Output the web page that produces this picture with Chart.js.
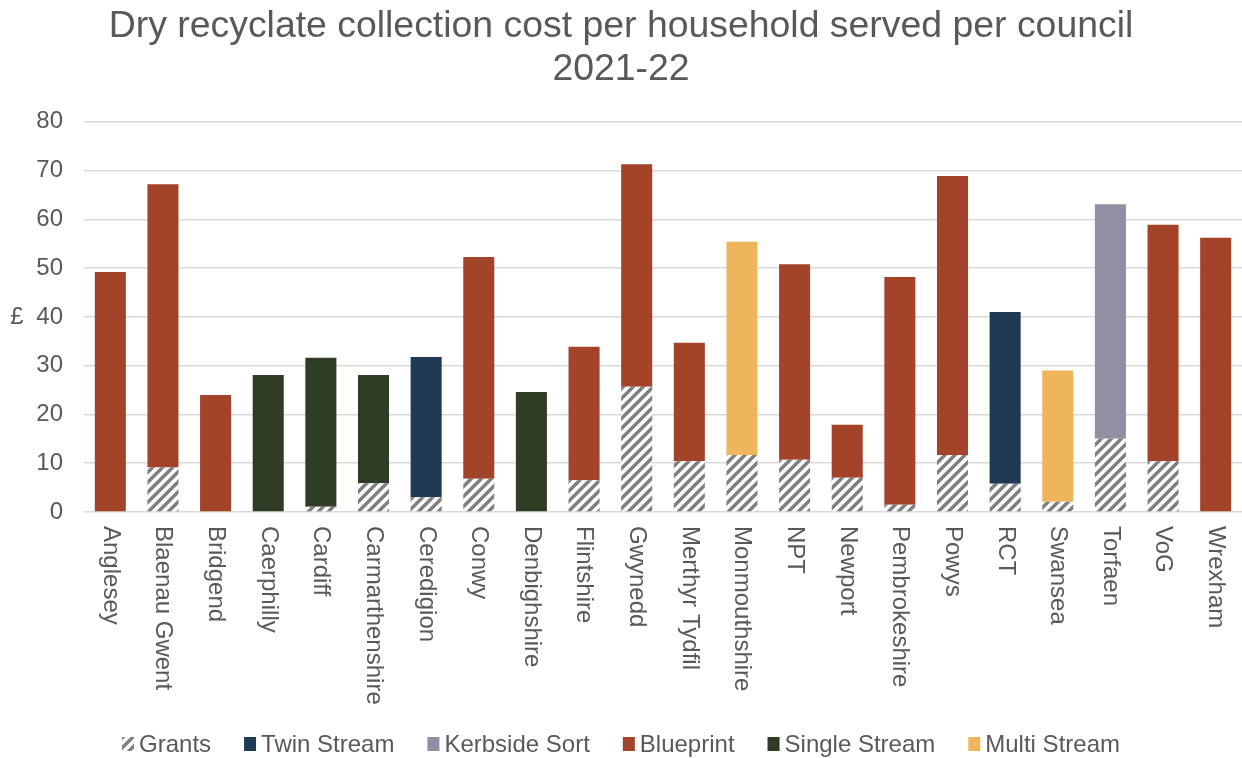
<!DOCTYPE html>
<html>
<head>
<meta charset="utf-8">
<script src="https://cdn.jsdelivr.net/npm/chart.js@4.4.1/dist/chart.umd.min.js"></script>
<style>
    html, body { margin: 0; padding: 0; background: #fff; }
    #wrap { width: 1242px; height: 758px; position: relative; }
</style>
</head>
<body>
<div id="wrap"><canvas id="barchart"></canvas></div>
<script>
// Data
const councils = ['Anglesey', 'Blaenau Gwent', 'Bridgend', 'Caerphilly', 'Cardiff', 'Carmarthenshire',
    'Ceredigion', 'Conwy', 'Denbighshire', 'Flintshire', 'Gwynedd', 'Merthyr Tydfil', 'Monmouthshire',
    'NPT', 'Newport', 'Pembrokeshire', 'Powys', 'RCT', 'Swansea', 'Torfaen', 'VoG', 'Wrexham'];

// grant-funded part (hatched, bottom of each bar)
const grants = [0, 9.1, 0, 0, 1.1, 5.9, 3.0, 6.8, 0, 6.5, 25.7, 10.4, 11.7, 10.7, 7.0, 1.5, 11.7, 5.8, 2.1, 15.0, 10.4, 0];

// coloured part of each bar (cost above grants)
const schemeCost = [49.2, 58.1, 24.0, 28.1, 30.5, 22.2, 28.8, 45.5, 24.6, 27.4, 45.6, 24.3, 43.7, 40.1, 10.9, 46.7, 57.2, 35.2, 26.9, 48.1, 48.5, 56.2];

// collection scheme of each council
const schemes = ['Blueprint', 'Blueprint', 'Blueprint', 'Single Stream', 'Single Stream', 'Single Stream',
    'Twin Stream', 'Blueprint', 'Single Stream', 'Blueprint', 'Blueprint', 'Blueprint', 'Multi Stream',
    'Blueprint', 'Blueprint', 'Blueprint', 'Blueprint', 'Twin Stream', 'Multi Stream', 'Kerbside Sort',
    'Blueprint', 'Blueprint'];

const schemeNames = ['Twin Stream', 'Kerbside Sort', 'Blueprint', 'Single Stream', 'Multi Stream'];
const schemeColors = ['#1F3A52', '#938FA3', '#A2432A', '#2F3D25', '#EEB55D'];

const yTicks = [0, 80, 10];   // min, max, step

const FONT = "'Liberation Sans', Arial, sans-serif";
const TEXT = '#595959';

function hatchPattern() {
    const c = document.createElement('canvas');
    c.width = 10;
    c.height = 10;
    const g = c.getContext('2d');
    g.fillStyle = '#ffffff';
    g.fillRect(0, 0, 10, 10);
    g.strokeStyle = '#7F7F7F';
    g.lineWidth = 3.4;
    g.beginPath();
    g.moveTo(-2, 12); g.lineTo(12, -2);
    g.moveTo(-7, 7); g.lineTo(7, -7);
    g.moveTo(3, 17); g.lineTo(17, 3);
    g.stroke();
    return g.createPattern(c, 'repeat');
}

const hatch = hatchPattern();

function buildDatasets() {
    const sets = [{
        label: 'Grants',
        data: grants,
        backgroundColor: hatch,
        stack: 'cost'
    }];
    schemeNames.forEach(function (name, k) {
        sets.push({
            label: name,
            data: schemeCost.map(function (v, i) { return schemes[i] === name ? v : null; }),
            backgroundColor: schemeColors[k],
            stack: 'cost'
        });
    });
    sets.forEach(function (s) {
        s.barPercentage = 0.59;
        s.categoryPercentage = 1.0;
        s.borderWidth = 0;
    });
    return sets;
}

// draws the rotated category labels, the "£" axis title and the legend
const decorPlugin = {
    id: 'decor',
    afterDraw: function (chart) {
        const ctx = chart.ctx;
        const xs = chart.scales.x;
        const area = chart.chartArea;

        ctx.save();
        ctx.fillStyle = TEXT;
        ctx.font = '24px ' + FONT;
        ctx.textAlign = 'left';
        ctx.textBaseline = 'middle';
        councils.forEach(function (name, i) {
            const x = xs.getPixelForValue(i);
            ctx.save();
            ctx.translate(x, area.bottom + 14);
            ctx.rotate(Math.PI / 2);
            ctx.fillText(name, 0, 0);
            ctx.restore();
        });

        ctx.textAlign = 'center';
        ctx.fillText('£', 17, (area.top + area.bottom) / 2);

        // legend
        const items = chart.data.datasets.map(function (d) {
            return { text: d.label, color: d.backgroundColor };
        });
        ctx.font = '24px ' + FONT;
        const box = 12, gap = 5, spacing = 33;
        let total = 0;
        items.forEach(function (it, i) {
            it.w = box + gap + ctx.measureText(it.text).width;
            total += it.w + (i > 0 ? spacing : 0);
        });
        let x = (chart.width - total) / 2;
        const y = 744;
        ctx.textAlign = 'left';
        items.forEach(function (it) {
            ctx.fillStyle = it.color;
            ctx.fillRect(x, y - 7, box, 14);
            ctx.fillStyle = TEXT;
            ctx.fillText(it.text, x + box + gap, y + 1);
            x += it.w + spacing;
        });
        ctx.restore();
    }
};

function createBarChart() {
    const ctx = document.getElementById('barchart').getContext('2d');
    new Chart(ctx, {
        type: 'bar',
        data: {
            labels: councils,
            datasets: buildDatasets()
        },
        options: {
            responsive: true,
            maintainAspectRatio: false,
            animation: false,
            layout: {
                padding: { left: 0, right: 0, top: 0, bottom: 55 }
            },
            plugins: {
                legend: { display: false },
                tooltip: { enabled: false },
                title: {
                    display: true,
                    text: ['Dry recyclate collection cost per household served per council', '2021-22'],
                    color: TEXT,
                    font: { family: FONT, size: 37.4, weight: 'normal', lineHeight: 1.16 },
                    padding: { top: 5, bottom: 30 }
                }
            },
            scales: {
                x: {
                    stacked: true,
                    grid: { display: false },
                    border: { display: false },
                    ticks: { display: false },
                    afterFit: function (scale) { scale.height = 191; }
                },
                y: {
                    stacked: true,
                    min: yTicks[0],
                    max: yTicks[1],
                    ticks: {
                        stepSize: yTicks[2],
                        color: TEXT,
                        padding: 21,
                        font: { family: FONT, size: 24 }
                    },
                    grid: { color: '#D9D9D9', lineWidth: 1.5, drawTicks: false },
                    border: { display: false },
                    afterFit: function (scale) { scale.width = 84; }
                }
            }
        },
        plugins: [decorPlugin]
    });
}

document.addEventListener('DOMContentLoaded', function () {
    createBarChart();
});
</script>
</body>
</html>
